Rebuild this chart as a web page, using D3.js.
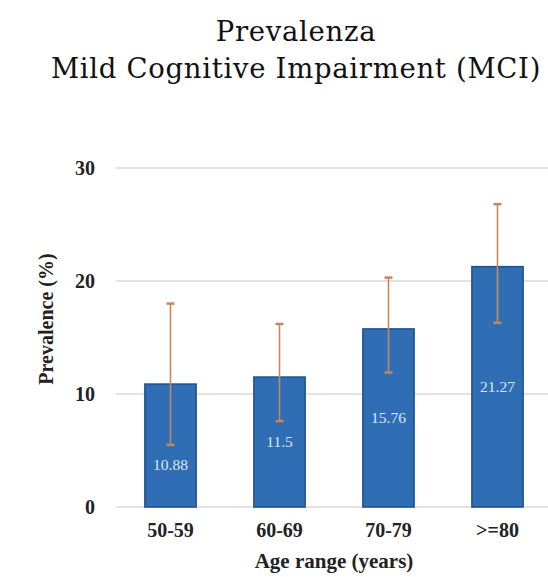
<!DOCTYPE html>
<html><head><meta charset="utf-8">
<script src="https://cdn.jsdelivr.net/npm/d3@7"></script>
<style>body{margin:0;background:#fff}svg{display:block}</style>
</head><body>
<svg id="c" width="548" height="577"></svg>
<script>
const categories = ["50-59", "60-69", "70-79", ">=80"];
const values = [10.88, 11.5, 15.76, 21.27];
const errLow = [5.5, 7.6, 11.9, 16.3];
const errHigh = [18.0, 16.2, 20.3, 26.8];
const yTicks = [0, 10, 20, 30];
const titleLines = ["Prevalenza", "Mild Cognitive Impairment (MCI)"];

const svg = d3.select("#c");
const x = d3.scaleBand().domain(categories).range([116, 552]).paddingInner(0.53).paddingOuter(0.265);
const y = d3.scaleLinear().domain([0, 30]).range([507, 168]);

const serif = "'Liberation Serif','Times New Roman',serif";
const slab = "'DejaVu Serif',serif";

svg.append("g").selectAll("text").data(titleLines).join("text")
  .attr("x", 296).attr("y", (d, i) => 41 + i * 37)
  .attr("text-anchor", "middle")
  .style("font-family", slab).style("font-size", "27.5px").style("letter-spacing", "0.7px").style("fill", "#111")
  .text(d => d);

// grid
svg.append("g").selectAll("line").data(yTicks).join("line")
  .attr("x1", 116).attr("x2", 548)
  .attr("y1", d => y(d)).attr("y2", d => y(d))
  .attr("stroke", "#d9d9d9").attr("stroke-width", 1.5);

// y axis labels
const yAxis = d3.axisLeft(y).tickValues(yTicks).tickSize(0).tickPadding(0);
const ga = svg.append("g").attr("transform", "translate(95,0)").call(yAxis);
ga.select(".domain").remove();
ga.selectAll("text").style("font-family", serif).style("font-weight", "bold")
  .style("font-size", "20px").style("fill", "#222");

// bars
const data = categories.map((c, i) => ({c, v: values[i], lo: errLow[i], hi: errHigh[i]}));
svg.append("g").selectAll("rect").data(data).join("rect")
  .attr("x", d => x(d.c)).attr("width", x.bandwidth())
  .attr("y", d => y(d.v)).attr("height", d => y(0) - y(d.v))
  .attr("fill", "#2f6eb5").attr("stroke", "#1d4f8e").attr("stroke-width", 1.5);

// error bars
const eb = svg.append("g").attr("stroke", "#c8865f").attr("stroke-width", 1.6);
eb.selectAll("line.v").data(data).join("line").attr("class", "v")
  .attr("x1", d => x(d.c) + x.bandwidth() / 2).attr("x2", d => x(d.c) + x.bandwidth() / 2)
  .attr("y1", d => y(d.lo)).attr("y2", d => y(d.hi));
eb.selectAll("line.t").data(data).join("line").attr("class", "t")
  .attr("x1", d => x(d.c) + x.bandwidth() / 2 - 4).attr("x2", d => x(d.c) + x.bandwidth() / 2 + 4)
  .attr("y1", d => y(d.hi)).attr("y2", d => y(d.hi)).attr("stroke-width", 2.5);
eb.selectAll("line.b").data(data).join("line").attr("class", "b")
  .attr("x1", d => x(d.c) + x.bandwidth() / 2 - 4).attr("x2", d => x(d.c) + x.bandwidth() / 2 + 4)
  .attr("y1", d => y(d.lo)).attr("y2", d => y(d.lo)).attr("stroke-width", 2.5);

// value labels
svg.append("g").selectAll("text").data(data).join("text")
  .attr("x", d => x(d.c) + x.bandwidth() / 2)
  .attr("y", d => {
    let cy = y(d.v / 2);
    if (Math.abs(cy - y(d.lo)) < 12) cy = y(d.lo) + 20;
    return cy + 5;
  })
  .attr("text-anchor", "middle")
  .style("font-family", serif).style("font-size", "15.5px").style("fill", "#dfe6f0")
  .text(d => d.v);

// x labels
const xAxis = d3.axisBottom(x).tickSize(0).tickPadding(0);
const gx = svg.append("g").attr("transform", "translate(0,523)").call(xAxis);
gx.select(".domain").remove();
gx.selectAll("text").style("font-family", serif).style("font-weight", "bold")
  .style("font-size", "20px").style("fill", "#222");

svg.append("text").attr("x", 334).attr("y", 568).attr("text-anchor", "middle")
  .style("font-family", serif).style("font-weight", "bold").style("font-size", "21px").style("fill", "#222")
  .text("Age range (years)");

svg.append("text").attr("transform", "translate(53,319) rotate(-90)").attr("text-anchor", "middle")
  .style("font-family", serif).style("font-weight", "bold").style("font-size", "20px").style("fill", "#222")
  .text("Prevalence (%)");
</script>
</body></html>
